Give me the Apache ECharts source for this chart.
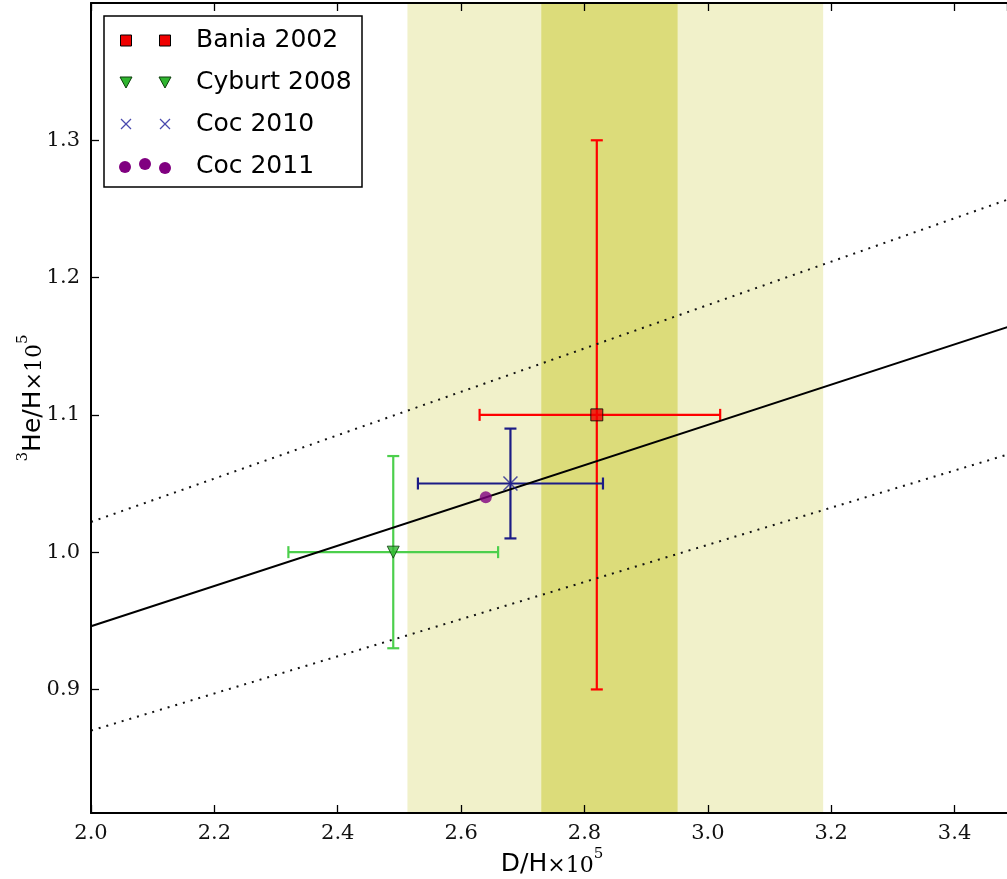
<!DOCTYPE html>
<html>
<head>
<meta charset="utf-8">
<script src="https://cdn.jsdelivr.net/npm/echarts@6/dist/echarts.min.js"></script>
<style>
  html, body { margin: 0; padding: 0; background: #ffffff; }
  #chart { width: 1007px; height: 879px; }
</style>
</head>
<body>
<div id="chart"></div>
<script>
// Measurements: D/H and 3He/H (both x 10^5) with their error ranges
const seriesNames = ['Bania 2002', 'Cyburt 2008', 'Coc 2010', 'Coc 2011'];
const dh     = [2.82, 2.49, 2.68, 2.64];
const he3    = [1.10, 1.00, 1.05, 1.04];
const dhLow  = [2.63, 2.32, 2.53, null];
const dhHigh = [3.02, 2.66, 2.83, null];
const heLow  = [0.90, 0.93, 1.01, null];
const heHigh = [1.30, 1.07, 1.09, null];

// Relation 3He/H vs D/H: central line and its upper / lower envelope
const fitX       = [2.0, 3.5];
const fitCentral = [0.946, 1.166];
const fitUpper   = [1.022, 1.259];
const fitLower   = [0.870, 1.073];

// Vertical bands on D/H: wide range and narrow range
const bandOuter = [2.513, 3.187];
const bandInner = [2.730, 2.951];

// Axis ranges
const xRange = [2.0, 3.485];
const xStep = 0.2;
const yRange = [0.81, 1.40];

const colors = {
  bandOuter: '#f1f1ca',
  bandInner: '#dcdc7a',
  err: ['#ff0000', '#4ccf4c', '#1c1c86', null],
  mark: ['#f00000', '#2fb52f', '#23238f', '#800080'],
  markEdge: ['#000000', '#0b3d0b', null, null]
};

const SANS = '"DejaVu Sans", sans-serif';
const SERIF = '"DejaVu Serif", serif';

const chart = echarts.init(document.getElementById('chart'), null, { renderer: 'canvas' });

const pairs = (xs, ys) => xs.map((x, i) => [x, ys[i]]);

const labelStyle = {
  fontFamily: SERIF, fontSize: 21, color: '#111'
};

const axisCommon = {
  type: 'value',
  z: 10,
  splitLine: { show: false },
  axisLine: { show: true, onZero: false, lineStyle: { color: '#000', width: 2 } },
  axisTick: { show: true, inside: true, length: 8, lineStyle: { color: '#000', width: 1.3 } }
};

const series = [];

// bands
series.push({
  type: 'custom',
  name: 'bands',
  silent: true,
  z: 1,
  xAxisIndex: 0, yAxisIndex: 0,
  data: [
    [bandOuter[0], bandOuter[1], 0],
    [bandInner[0], bandInner[1], 1]
  ],
  renderItem(params, api) {
    const cs = params.coordSys;
    const a = api.coord([api.value(0), yRange[1]]);
    const b = api.coord([api.value(1), yRange[1]]);
    return {
      type: 'rect',
      shape: { x: a[0], y: cs.y, width: b[0] - a[0], height: cs.height },
      style: { fill: api.value(2) === 0 ? colors.bandOuter : colors.bandInner }
    };
  }
});

// relation lines
series.push({
  type: 'line', name: 'central', silent: true, z: 4,
  symbol: 'none', data: pairs(fitX, fitCentral),
  lineStyle: { color: '#000', width: 2 }
});
series.push({
  type: 'line', name: 'upper', silent: true, z: 4,
  symbol: 'none', data: pairs(fitX, fitUpper),
  lineStyle: { color: '#111', width: 2, type: [2, 6] }
});
series.push({
  type: 'line', name: 'lower', silent: true, z: 4,
  symbol: 'none', data: pairs(fitX, fitLower),
  lineStyle: { color: '#111', width: 2, type: [2, 6] }
});

// error bars
const CAP = 6;
seriesNames.forEach((name, i) => {
  if (dhLow[i] == null) return;
  const col = colors.err[i];
  series.push({
    type: 'custom',
    name: name + ' errors',
    silent: true,
    z: 3,
    data: [[dh[i], he3[i], dhLow[i], dhHigh[i], heLow[i], heHigh[i]]],
    renderItem(params, api) {
      const x = api.value(0), y = api.value(1);
      const xl = api.coord([api.value(2), y]);
      const xh = api.coord([api.value(3), y]);
      const yl = api.coord([x, api.value(4)]);
      const yh = api.coord([x, api.value(5)]);
      const st = { stroke: col, lineWidth: 2.2 };
      const ln = (x1, y1, x2, y2) => ({ type: 'line', shape: { x1, y1, x2, y2 }, style: st });
      return {
        type: 'group',
        children: [
          ln(xl[0], xl[1], xh[0], xh[1]),
          ln(yl[0], yl[1], yh[0], yh[1]),
          ln(xl[0], xl[1] - CAP, xl[0], xl[1] + CAP),
          ln(xh[0], xh[1] - CAP, xh[0], xh[1] + CAP),
          ln(yl[0] - CAP, yl[1], yl[0] + CAP, yl[1]),
          ln(yh[0] - CAP, yh[1], yh[0] + CAP, yh[1])
        ]
      };
    }
  });
});

// markers
const markerDefs = [
  { symbol: 'rect', size: 12, rotate: 0 },
  { symbol: 'triangle', size: 12, rotate: 180 },
  { symbol: 'path://M0,0L10,10M10,0L0,10', size: 14, rotate: 0 },
  { symbol: 'circle', size: 12, rotate: 0 }
];
seriesNames.forEach((name, i) => {
  const d = markerDefs[i];
  const isCross = i === 2;
  series.push({
    type: 'scatter',
    name,
    z: 6,
    symbol: d.symbol,
    symbolSize: d.size,
    symbolRotate: d.rotate,
    data: [[dh[i], he3[i]]],
    itemStyle: isCross
      ? { color: 'rgba(0,0,0,0)', borderColor: colors.mark[i], borderWidth: 1.5 }
      : {
          color: colors.mark[i],
          borderColor: colors.markEdge[i] || colors.mark[i],
          borderWidth: colors.markEdge[i] ? 1 : 0
        }
  });
});

// legend drawn as graphic elements
const legendRows = [40.5, 82, 124, 166];
const legendEls = [];
legendEls.push({
  type: 'rect',
  shape: { x: 104, y: 16, width: 258, height: 171 },
  style: { fill: '#fff', stroke: '#000', lineWidth: 1.5 },
  z: 100
});
const mkX = [126, 165];
// Bania squares
mkX.forEach(x => legendEls.push({
  type: 'rect', z: 101,
  shape: { x: x - 5.5, y: legendRows[0] - 5.5, width: 11, height: 11 },
  style: { fill: colors.mark[0], stroke: '#000', lineWidth: 1 }
}));
// Cyburt triangles
mkX.forEach(x => legendEls.push({
  type: 'polygon', z: 101,
  shape: { points: [[x - 6, legendRows[1] - 5], [x + 6, legendRows[1] - 5], [x, legendRows[1] + 6]] },
  style: { fill: colors.mark[1], stroke: colors.markEdge[1], lineWidth: 1 }
}));
// Coc 2010 crosses
mkX.forEach(x => {
  const y = legendRows[2];
  [[-5, -5, 5, 5], [-5, 5, 5, -5]].forEach(s => legendEls.push({
    type: 'line', z: 101,
    shape: { x1: x + s[0], y1: y + s[1], x2: x + s[2], y2: y + s[3] },
    style: { stroke: '#4a4aae', lineWidth: 1.2 }
  }));
});
// Coc 2011 dots
[[125, 167], [145, 164], [165, 168]].forEach(p => legendEls.push({
  type: 'circle', z: 101,
  shape: { cx: p[0], cy: p[1], r: 6 },
  style: { fill: colors.mark[3] }
}));
seriesNames.forEach((name, i) => legendEls.push({
  type: 'text', z: 101,
  x: 196, y: legendRows[i],
  style: {
    text: name, fill: '#000', font: '25px ' + SANS,
    verticalAlign: 'middle', align: 'left'
  }
}));

// axis titles
const titleRich = {
  t: { fontFamily: SANS, fontSize: 25, color: '#000', verticalAlign: 'bottom', lineHeight: 30 },
  m: { fontFamily: SERIF, fontSize: 22, color: '#000', verticalAlign: 'bottom', lineHeight: 30 },
  s: { fontFamily: SERIF, fontSize: 15, color: '#000', verticalAlign: 'top', lineHeight: 15 }
};
legendEls.push({
  type: 'text', z: 50,
  x: 552, y: 862,
  style: {
    text: '{t|D/H}{m|×10}{s|5}', rich: titleRich,
    align: 'center', verticalAlign: 'middle'
  }
});
legendEls.push({
  type: 'text', z: 50,
  x: 31, y: 398,
  rotation: Math.PI / 2,
  style: {
    text: '{s|3}{t|He/H}{m|×10}{s|5}', rich: titleRich,
    align: 'center', verticalAlign: 'middle'
  }
});

const option = {
  backgroundColor: '#fff',
  animation: false,
  grid: { left: 91, top: 3, right: 0, bottom: 66, containLabel: false },
  xAxis: [
    Object.assign({}, axisCommon, {
      position: 'bottom', min: xRange[0], max: xRange[1], interval: xStep,
      axisLabel: Object.assign({}, labelStyle, {
        margin: 10, showMaxLabel: false,
        formatter: v => v.toFixed(1)
      })
    }),
    Object.assign({}, axisCommon, {
      position: 'top', min: xRange[0], max: xRange[1], interval: xStep,
      axisLabel: { show: false }
    })
  ],
  yAxis: [
    Object.assign({}, axisCommon, {
      position: 'left', min: yRange[0], max: yRange[1], splitNumber: 5,
      axisLabel: Object.assign({}, labelStyle, {
        margin: 11, showMinLabel: false, showMaxLabel: false,
        formatter: v => v.toFixed(1)
      })
    }),
    Object.assign({}, axisCommon, {
      position: 'right', min: yRange[0], max: yRange[1], splitNumber: 5,
      axisLine: { show: false },
      axisTick: { show: false },
      axisLabel: { show: false }
    })
  ],
  series,
  graphic: legendEls
};

chart.setOption(option);
</script>
</body>
</html>
